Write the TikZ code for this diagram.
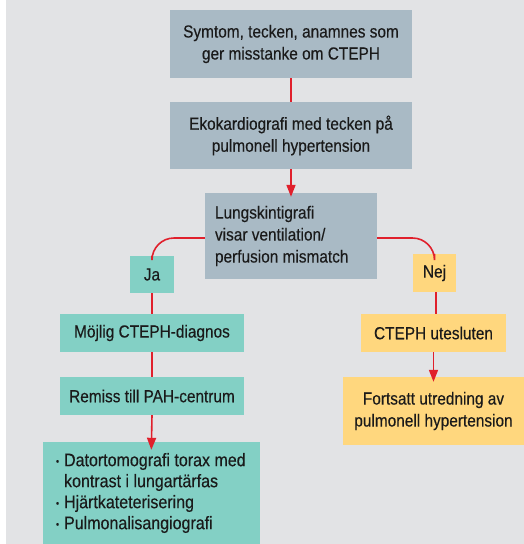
\documentclass[tikz,border=0pt]{standalone}
\usepackage{fontspec}
\setmainfont{Liberation Sans}[FakeStretch=0.88, FakeBold=0.3]
\usetikzlibrary{arrows.meta}
\definecolor{bgc}{HTML}{E2E3E5}
\definecolor{grayb}{HTML}{A9BAC5}
\definecolor{tealb}{HTML}{83D0C5}
\definecolor{yelb}{HTML}{FFD77E}
\definecolor{redl}{HTML}{E0202C}
\definecolor{txt}{HTML}{1A1A1A}
\tikzset{
  box/.style={draw=none, inner sep=0pt, align=center, text=txt,
    font=\fontsize{17.5}{22}\selectfont},
  gbox/.style={box, fill=grayb},
  tbox/.style={box, fill=tealb},
  ybox/.style={box, fill=yelb},
  conn/.style={draw=redl, line width=1.6pt},
  arr/.style={conn, -{Triangle[length=12pt, width=9pt]}},
}
\newcommand{\bul}{\raisebox{1.5pt}{\fontsize{10}{10}\selectfont •}}
\begin{document}
\begin{tikzpicture}[x=1pt, y=-1pt]
\useasboundingbox (0,0) rectangle (524,544);
\fill[bgc] (6,0) rectangle (524,544);
\node[gbox, minimum width=242pt, minimum height=68pt] (b1) at (291,44) {Symtom, tecken, anamnes som\\ger misstanke om CTEPH};
\node[gbox, minimum width=242pt, minimum height=67pt] (b2) at (291,135.5) {Ekokardiografi med tecken på\\pulmonell hypertension};
\node[gbox, minimum width=172pt, minimum height=86pt, text width=152pt, align=flush left] (b3) at (291,236) {Lungskintigrafi\\visar ventilation/\\perfusion mismatch};
\node[tbox, minimum width=44pt, minimum height=37pt] (ja) at (152,274.5) {Ja};
\node[ybox, minimum width=43pt, minimum height=38pt] (nej) at (434.5,273) {Nej};
\node[tbox, minimum width=184pt, minimum height=38pt] (m1) at (152,333) {Möjlig CTEPH-diagnos};
\node[tbox, minimum width=184pt, minimum height=38pt] (m2) at (152,396) {Remiss till PAH-centrum};
\node[tbox, minimum width=217pt, minimum height=103pt, text width=191pt, align=flush left,
  font=\fontsize{18.2}{21}\selectfont] (m3) at (151.5,493.5) {%
  \begin{tabular}{@{}l@{\hspace{5pt}}l@{}}
  \bul & Datortomografi torax med\\
   & kontrast i lungartärfas\\
  \bul & Hjärtkateterisering\\
  \bul & Pulmonalisangiografi
  \end{tabular}};
\node[ybox, minimum width=145pt, minimum height=38pt] (c1) at (433.5,333) {CTEPH utesluten};
\node[ybox, minimum width=181pt, minimum height=68pt] (c2) at (433.5,411) {Fortsatt utredning av\\pulmonell hypertension};
\draw[conn] (b1.south) -- (b2.north);
\draw[arr, shorten >=-4pt] (b2.south) -- (b3.north);
\draw[conn, rounded corners=22pt] ([yshift=-2pt]b3.west) -| (ja.north);
\draw[conn, rounded corners=22pt] ([yshift=-2pt]b3.east) -| (nej.north);
\draw[conn] (ja.south) -- (ja.south |- m1.north);
\draw[conn] (m1.south) -- (m2.north);
\draw[arr, shorten >=-8pt] (m2.south) -- (m3.north);
\draw[conn] ([xshift=1.5pt]nej.south) -- ([xshift=1.5pt]nej.south |- c1.north);
\draw[arr, shorten >=-5pt] (c1.south) -- (c2.north);
\end{tikzpicture}
\end{document}
